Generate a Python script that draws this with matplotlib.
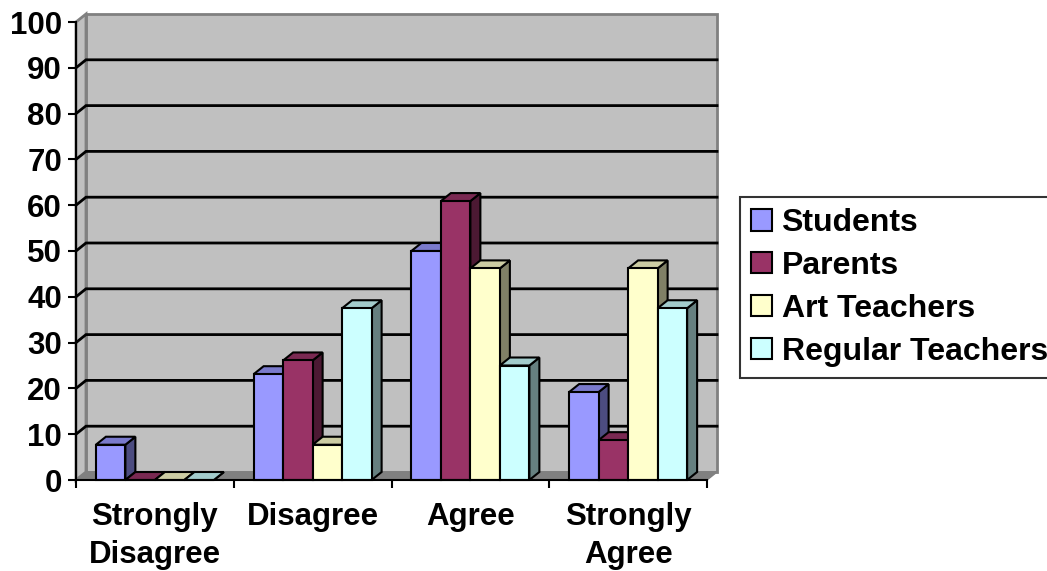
import numpy as np
import matplotlib
matplotlib.use("Agg")
import matplotlib.pyplot as plt
from matplotlib.patches import Polygon, Patch

plt.rcParams["font.family"] = ["Liberation Sans", "DejaVu Sans"]
plt.rcParams["font.weight"] = "bold"

# ----- dados -----
categorias = ["Strongly\nDisagree", "Disagree", "Agree", "Strongly\nAgree"]
grupos = ["Students", "Parents", "Art Teachers", "Regular Teachers"]
students = [7.7, 23.1, 50.0, 19.2]
parents = [0.0, 26.1, 60.9, 8.7]
art_teachers = [0.0, 7.7, 46.2, 46.2]
regular_teachers = [0.0, 37.5, 25.0, 37.5]
series = [students, parents, art_teachers, regular_teachers]

# cores: frente, topo, lateral
frente = ["#9999FF", "#993366", "#FFFFCC", "#CCFFFF"]
topo = ["#7A7ACC", "#7A2952", "#CCCCA3", "#A3CCCC"]
lateral = ["#4C4C80", "#4C1933", "#808066", "#668080"]

W, H, DPI = 1047, 571, 100
fig = plt.figure(figsize=(W / DPI, H / DPI), dpi=DPI)
ax = fig.add_axes([76 / W, (H - 480) / H, 631 / W, 458 / H])
n_cat = len(categorias)
ax.set_xlim(0, n_cat)
ax.set_ylim(0, 100)
ax.patch.set_visible(False)

# profundidade 3D em pixels convertida para unidades de dados
p0 = ax.transData.transform((0, 0))
dx, dy = ax.transData.inverted().transform(p0 + np.array([10, 8]))

def poly(pts, fc, ec, lw=1.5, z=1):
    ax.add_patch(Polygon(pts, closed=True, facecolor=fc, edgecolor=ec,
                         linewidth=lw, zorder=z, clip_on=False,
                         joinstyle="miter"))

# parede do fundo, parede lateral e piso
poly([(dx, dy), (n_cat + dx, dy), (n_cat + dx, 100 + dy), (dx, 100 + dy)],
     "#C0C0C0", "#808080", 2, 0)
poly([(0, 0), (dx, dy), (dx, 100 + dy), (0, 100)], "#C0C0C0", "#808080", 2, 0)
poly([(0, 0), (n_cat, 0), (n_cat + dx, dy), (dx, dy)], "#808080", "#808080", 1, 0.5)

# linhas de grade na parede
for v in range(10, 100, 10):
    ax.plot([0, dx, n_cat + dx], [v, v + dy, v + dy], color="black", lw=2,
            zorder=0.8, clip_on=False, solid_joinstyle="miter")

# barras 3D
gap = 0.252
largura = (1 - gap) / len(series)
for i in range(n_cat):
    for j, s in enumerate(series):
        x0 = i + gap / 2 + j * largura
        x1 = x0 + largura
        h = s[i]
        z = 2 + i * 0.1 + j * 0.01
        poly([(x1, 0), (x1 + dx, dy), (x1 + dx, h + dy), (x1, h)], lateral[j], "black", 1.5, z)
        poly([(x0, h), (x1, h), (x1 + dx, h + dy), (x0 + dx, h + dy)], topo[j], "black", 1.5, z)
        if h > 0:
            poly([(x0, 0), (x1, 0), (x1, h), (x0, h)], frente[j], "black", 1.5, z)

# eixos
for lado in ["top", "right"]:
    ax.spines[lado].set_visible(False)
for lado in ["left", "bottom"]:
    ax.spines[lado].set_linewidth(1.5)
    ax.spines[lado].set_zorder(5)

ax.set_yticks(range(0, 101, 10))
ax.tick_params(axis="y", length=6, width=1.5, pad=4, labelsize=22.5)
ax.set_xticks(range(n_cat + 1))
ax.set_xticklabels([])
ax.tick_params(axis="x", which="major", length=6, width=1.5)
ax.set_xticks(np.arange(n_cat) + 0.5, minor=True)
ax.set_xticklabels(categorias, minor=True, fontsize=22.5, linespacing=1.35)
ax.tick_params(axis="x", which="minor", length=0, pad=16)

# legenda
handles = [Patch(facecolor=c, edgecolor="black", linewidth=1.5) for c in frente]
leg = fig.legend(handles, grupos, loc="upper left",
                 bbox_to_anchor=(740 / W, 1 - 197 / H), fontsize=23,
                 frameon=True, fancybox=False, edgecolor="black",
                 handlelength=0.65, handleheight=0.65, handletextpad=0.3,
                 labelspacing=0.4, borderpad=0.35, borderaxespad=0)
leg.get_frame().set_linewidth(1.5)

fig.savefig("out.png", dpi=DPI)
